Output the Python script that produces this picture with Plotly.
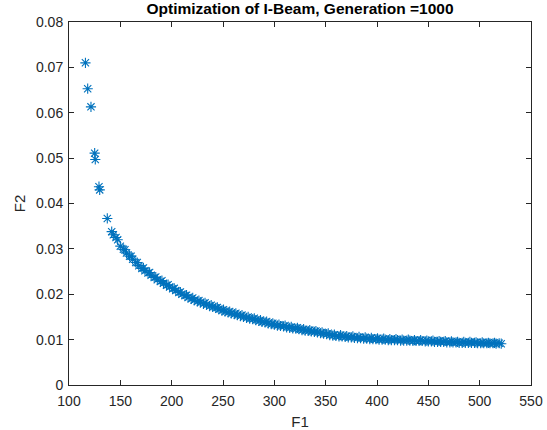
import plotly.graph_objects as go

# Sparse leading points
f1_head = [116.0, 118.2, 121.4, 125.0, 125.6, 129.2, 129.9, 137.3, 141.6, 143.2, 145.8, 147.4]
f2_head = [0.0710, 0.0653, 0.0613, 0.0511, 0.0497, 0.0437, 0.0430, 0.0367, 0.0338, 0.0331, 0.0325, 0.0320]

# Dense front, centre of the band
f1_front = [150, 153, 156, 159, 162, 165, 168, 171, 174, 177, 180, 183, 186, 189, 192, 195, 198,
            201, 204, 207, 210, 213, 216, 219, 222, 225, 228, 231, 234, 237, 240, 243, 246, 249,
            252, 255, 258, 261, 264, 267, 270, 273, 276, 279, 282, 285, 288, 291, 294, 297, 300,
            303, 306, 309, 312, 315, 318, 321, 324, 327, 330, 333, 336, 339, 342, 345, 348, 351,
            354, 357, 360, 363, 366, 369, 372, 375, 378, 381, 384, 387, 390, 393, 396, 399, 402,
            405, 408, 411, 414, 417, 420, 423, 426, 429, 432, 435, 438, 441, 444, 447, 450, 453,
            456, 459, 462, 465, 468, 471, 474, 477, 480, 483, 486, 489, 492, 495, 498, 501, 504,
            507, 510, 513, 516, 519, 521]
f2_front = [0.0306, 0.0299, 0.0291, 0.0284, 0.0277, 0.0270, 0.0263, 0.0257, 0.0252, 0.0247, 0.0242,
            0.0237, 0.0232, 0.0228, 0.0224, 0.0220, 0.0216, 0.0212, 0.0208, 0.0204, 0.0200, 0.0197,
            0.0193, 0.0190, 0.0187, 0.0184, 0.0182, 0.0179, 0.0177, 0.0174, 0.0172, 0.0170, 0.0167,
            0.0164, 0.0162, 0.0160, 0.0158, 0.0156, 0.0154, 0.0152, 0.0150, 0.0148, 0.0146, 0.0145,
            0.0143, 0.0141, 0.0139, 0.0138, 0.0136, 0.0134, 0.0133, 0.0131, 0.0130, 0.0129, 0.0127,
            0.0126, 0.0125, 0.0124, 0.0123, 0.0121, 0.0120, 0.0119, 0.0118, 0.0117, 0.0116, 0.0114,
            0.0113, 0.0112, 0.0110, 0.0109, 0.0108, 0.0107, 0.0107, 0.0106, 0.0105, 0.0105, 0.0104,
            0.0103, 0.0103, 0.0102, 0.0102, 0.0101, 0.0101, 0.0101, 0.0100, 0.0100, 0.0100, 0.0099,
            0.0099, 0.0099, 0.0099, 0.0098, 0.0098, 0.0098, 0.0098, 0.0097, 0.0097, 0.0097, 0.0097,
            0.0096, 0.0096, 0.0096, 0.0095, 0.0095, 0.0095, 0.0095, 0.0094, 0.0094, 0.0094, 0.0094,
            0.0093, 0.0093, 0.0093, 0.0093, 0.0093, 0.0093, 0.0092, 0.0092, 0.0092, 0.0092, 0.0092,
            0.0092, 0.0091, 0.0092, 0.0091]

# Dense front, upper edge of the band
f1_upper = [154.5, 160.5, 166.5, 172.5, 178.5, 184.5, 190.5, 196.5, 202.5, 208.5, 214.5, 220.5,
            226.5, 232.5, 238.5, 244.5, 250.5, 256.5, 262.5, 268.5, 274.5, 280.5, 286.5, 292.5,
            298.5, 304.5, 310.5, 316.5, 322.5, 328.5, 334.5, 340.5, 346.5, 352.5, 358.5, 364.5,
            370.5, 376.5, 382.5, 388.5, 394.5, 400.5, 406.5, 412.5, 418.5, 424.5, 430.5, 436.5,
            442.5, 448.5, 454.5, 460.5, 466.5, 472.5, 478.5, 484.5, 490.5, 496.5, 502.5, 508.5,
            514.5]
f2_upper = [0.0298, 0.0284, 0.0270, 0.0258, 0.0248, 0.0238, 0.0230, 0.0221, 0.0213, 0.0205,
            0.0198, 0.0192, 0.0186, 0.0181, 0.0176, 0.0171, 0.0166, 0.0162, 0.0158, 0.0154,
            0.0150, 0.0147, 0.0143, 0.0140, 0.0136, 0.0133, 0.0131, 0.0128, 0.0126, 0.0123,
            0.0121, 0.0119, 0.0116, 0.0114, 0.0111, 0.0110, 0.0108, 0.0107, 0.0106, 0.0105,
            0.0104, 0.0103, 0.0102, 0.0101, 0.0101, 0.0100, 0.0100, 0.0099, 0.0099, 0.0098,
            0.0098, 0.0097, 0.0097, 0.0096, 0.0095, 0.0095, 0.0095, 0.0094, 0.0094, 0.0093,
            0.0093]

x_ticks = [100, 150, 200, 250, 300, 350, 400, 450, 500, 550]
y_ticks = [0, 0.01, 0.02, 0.03, 0.04, 0.05, 0.06, 0.07, 0.08]
y_tick_labels = ["0", "0.01", "0.02", "0.03", "0.04", "0.05", "0.06", "0.07", "0.08"]

F1 = f1_head + f1_front + f1_upper
F2 = f2_head + f2_front + f2_upper

FONT = "Liberation Sans, Arial, sans-serif"

fig = go.Figure()
fig.add_trace(go.Scatter(
    x=F1, y=F2, mode="markers",
    marker=dict(symbol="asterisk-open", size=8.5, color="#0072BD",
                line=dict(color="#0072BD", width=1.1)),
    showlegend=False,
))

axis_common = dict(
    showline=True, linecolor="#262626", linewidth=1, mirror="ticks",
    ticks="inside", ticklen=5, tickcolor="#262626", showgrid=False, zeroline=False,
    automargin=False,
    tickfont=dict(family=FONT, size=14, color="#262626"),
)

fig.update_layout(
    width=547, height=430,
    paper_bgcolor="white", plot_bgcolor="white",
    margin=dict(l=69, r=16, t=22, b=45),
    title=dict(text="<b>Optimization of I-Beam, Generation =1000</b>",
               x=0.5, xanchor="center", xref="paper",
               yref="container", y=1 - 9 / 430, yanchor="middle",
               font=dict(family=FONT, size=15.5, color="black")),
    xaxis=dict(range=[100, 550], tickvals=x_ticks,
               ticklabelstandoff=3,
               title=dict(text="F1", font=dict(family=FONT, size=15, color="#262626"),
                          standoff=8),
               **axis_common),
    yaxis=dict(range=[0, 0.08], tickvals=y_ticks, ticktext=y_tick_labels,
               ticklabelstandoff=2,
               title=dict(text="F2", font=dict(family=FONT, size=15, color="#262626"),
                          standoff=6),
               **axis_common),
)

fig.write_html("out.html", config={"displayModeBar": False},
               post_script="document.body.style.margin='0';")
